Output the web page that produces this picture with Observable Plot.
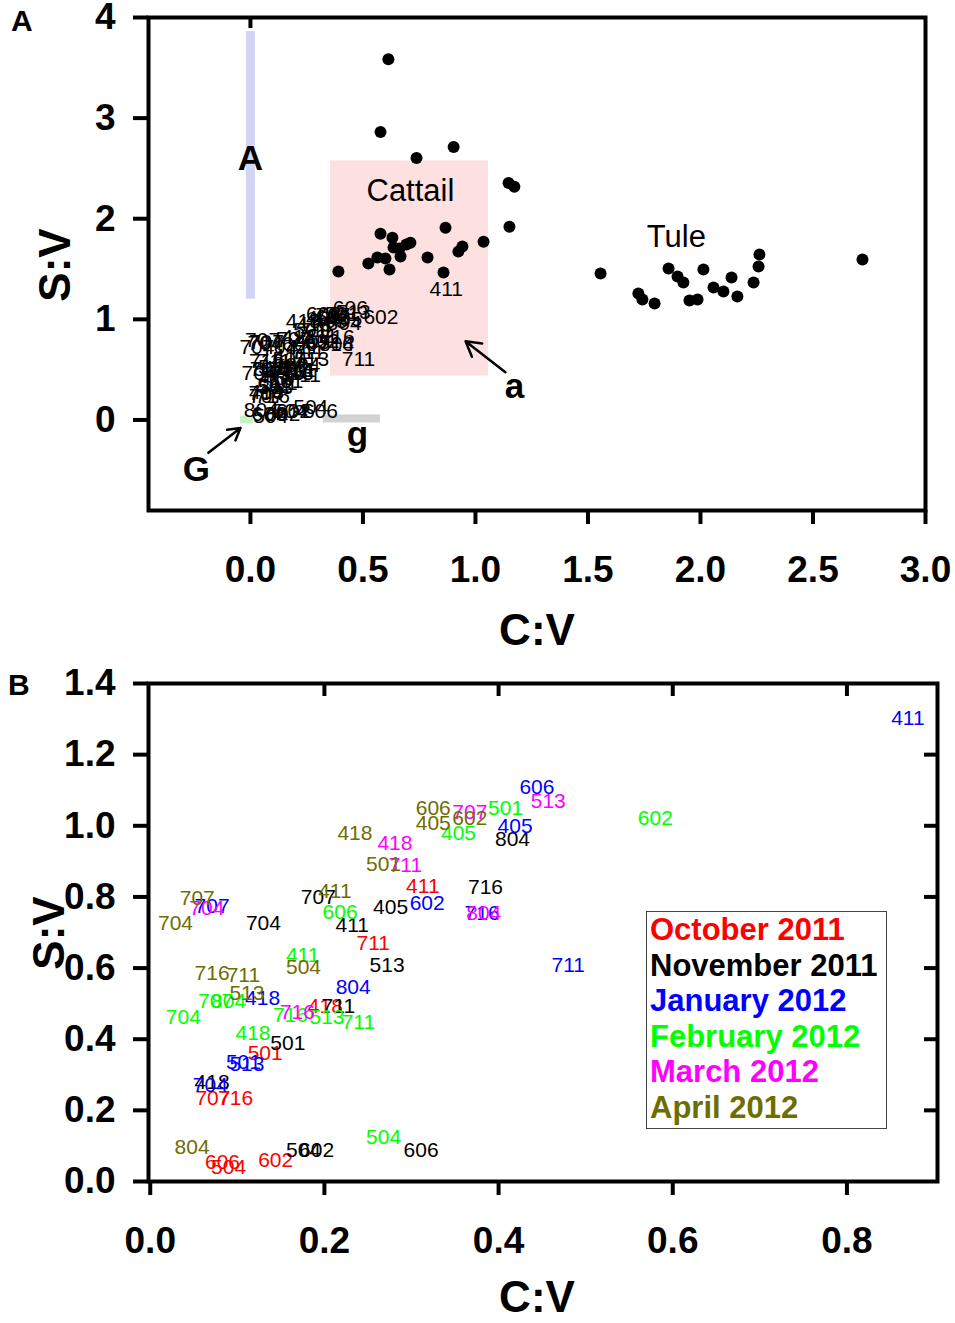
<!DOCTYPE html>
<html><head><meta charset="utf-8">
<script src="https://cdn.jsdelivr.net/npm/d3@7"></script>
<script src="https://cdn.jsdelivr.net/npm/@observablehq/plot@0.6"></script>
<style>
body{margin:0;background:#fff;font-family:Arial,"Liberation Sans",sans-serif}
#wrap{position:relative;width:955px;height:1323px;overflow:hidden}
.panel{position:absolute;left:0}
.plabel{position:absolute;font-weight:bold;font-size:30px;line-height:1}
.title{position:absolute;font-weight:bold;font-size:44px;line-height:1;transform:translate(-50%,-50%);white-space:nowrap}
.title.rot{transform:translate(-50%,-50%) rotate(-90deg)}
#legend{position:absolute;left:646px;top:911px;width:241px;height:218px;border:1px solid #444;box-sizing:border-box;font-weight:bold;font-size:31px;line-height:35.5px;padding-left:3px;white-space:nowrap;background:#fff}
</style></head><body>
<div id="wrap">
  <div id="panelA" class="panel" style="top:0"></div>
  <div id="panelB" class="panel" style="top:660px"></div>
  <div class="plabel" style="left:11px;top:6px">A</div>
  <div class="plabel" style="left:8px;top:670px">B</div>
  <div class="title" style="left:537px;top:630px">C:V</div>
  <div class="title" style="left:537px;top:1297px">C:V</div>
  <div class="title rot" style="left:55px;top:265px">S:V</div>
  <div class="title rot" style="left:49px;top:933px">S:V</div>
  <div id="legend"></div>
</div>
<script>
// ---- months / colours ----
const months = ["October 2011","November 2011","January 2012","February 2012","March 2012","April 2012"];
const monthColors = ["#ff0000","#000000","#0000ff","#00ff00","#ff00ff","#6e6e00"];

// ---- site labels (C:V, S:V) per month ----
const octSite = ["411","711","418","501","707","716","606","504","602"];
const octCV = [0.313,0.256,0.201,0.132,0.072,0.098,0.083,0.090,0.144];
const octSV = [0.831,0.671,0.494,0.360,0.233,0.233,0.053,0.039,0.059];

const novSite = ["716","804","405","707","411","513","704","711","501","418","504","602","606"];
const novCV = [0.385,0.416,0.276,0.193,0.232,0.272,0.130,0.216,0.158,0.071,0.176,0.191,0.311];
const novSV = [0.826,0.963,0.770,0.798,0.719,0.607,0.725,0.494,0.388,0.278,0.087,0.087,0.087];

const janSite = ["411","606","405","602","716","711","707","804","418","501","513","704"];
const janCV = [0.870,0.444,0.419,0.318,0.381,0.480,0.071,0.233,0.129,0.107,0.111,0.069];
const janSV = [1.303,1.107,1.000,0.781,0.753,0.607,0.775,0.545,0.514,0.334,0.329,0.270];

const febSite = ["602","501","405","606","411","707","804","704","418","716","513","711","504"];
const febCV = [0.580,0.408,0.354,0.218,0.175,0.075,0.090,0.038,0.118,0.161,0.203,0.239,0.268];
const febSV = [1.022,1.048,0.978,0.756,0.635,0.508,0.508,0.461,0.416,0.466,0.461,0.447,0.124];

const marSite = ["513","707","418","711","804","704","716"];
const marCV = [0.457,0.367,0.281,0.293,0.383,0.065,0.169];
const marSV = [1.070,1.037,0.952,0.888,0.753,0.767,0.475];

const aprSite = ["606","405","602","418","501","411","707","704","504","716","711","513","804"];
const aprCV = [0.325,0.325,0.367,0.235,0.268,0.212,0.054,0.029,0.176,0.071,0.107,0.111,0.048];
const aprSV = [1.048,1.006,1.020,0.980,0.893,0.817,0.795,0.725,0.601,0.584,0.579,0.528,0.096];

// ---- Cattail and Tule points (panel A) ----
const cattailCV = [0.613,0.578,0.903,0.738,1.147,1.173,1.151,0.867,1.036,0.578,0.631,0.711,0.693,0.662,0.636,0.942,0.924,0.667,0.564,0.600,0.787,0.524,0.618,0.858,0.391];
const cattailSV = [3.584,2.861,2.713,2.604,2.356,2.317,1.921,1.911,1.772,1.851,1.812,1.762,1.743,1.703,1.713,1.723,1.673,1.624,1.614,1.604,1.614,1.554,1.495,1.465,1.475];
const tuleCV = [1.556,1.724,1.742,1.796,1.858,1.898,1.924,1.951,1.987,2.013,2.058,2.102,2.138,2.164,2.236,2.258,2.262,2.720];
const tuleSV = [1.455,1.257,1.198,1.158,1.505,1.426,1.366,1.188,1.198,1.495,1.317,1.277,1.416,1.228,1.366,1.525,1.644,1.594];

// ---- panel A annotation zones ----
const zoneX1 = [-0.018, 0.356, -0.044, 0.324];
const zoneX2 = [0.022, 1.058, 0.013, 0.578];
const zoneY1 = [1.2, 0.436, -0.04, -0.03];
const zoneY2 = [3.86, 2.574, 0.04, 0.05];
const zoneFill = ["#d4d4f7","#fde0e0","#c6f0c6","#d2d2d2"];

const noteText = ["A","Cattail","Tule","a","g","G"];
const noteX = [0.0, 0.711, 1.893, 1.173, 0.476, -0.24];
const noteY = [2.594, 2.277, 1.822, 0.327, -0.15, -0.495];

const arrowX1 = [1.133, -0.187], arrowY1 = [0.475, -0.327];
const arrowX2 = [0.956, -0.044], arrowY2 = [0.782, -0.079];

// ---- build tables ----
const monthSets = [[octSite,octCV,octSV],[novSite,novCV,novSV],[janSite,janCV,janSV],[febSite,febCV,febSV],[marSite,marCV,marSV],[aprSite,aprCV,aprSV]];
const labels = [];
monthSets.forEach(([s,cv,sv], m) => s.forEach((site,i) => labels.push({month: months[m], color: monthColors[m], site, cv: cv[i], sv: sv[i]})));
const cattail = cattailCV.map((x,i)=>({cv:x, sv:cattailSV[i]}));
const tule = tuleCV.map((x,i)=>({cv:x, sv:tuleSV[i]}));
const zones = zoneX1.map((x,i)=>({x1:x, x2:zoneX2[i], y1:zoneY1[i], y2:zoneY2[i], fill:zoneFill[i]}));
const notes = noteText.map((t,i)=>({t, x:noteX[i], y:noteY[i], bold: t.length===1}));
const arrows = arrowX1.map((x,i)=>({x1:x, y1:arrowY1[i], x2:arrowX2[i], y2:arrowY2[i]}));

const FONT = 'Arial, "Liberation Sans", sans-serif';
const axisStyle = {fontSize: 37, fontWeight: "bold", strokeWidth: 4, label: null};

const plotA = Plot.plot({
  width: 955, height: 660,
  marginLeft: 148, marginRight: 30, marginTop: 17, marginBottom: 150,
  x: {domain: [-0.453, 3.0]},
  y: {domain: [-0.9, 4.0]},
  style: {fontFamily: FONT, color: "black", background: "white", overflow: "visible"},
  marks: [
    Plot.rect(zones, {x1:"x1", x2:"x2", y1:"y1", y2:"y2", fill: d=>d.fill}),
    Plot.dot(cattail, {x:"cv", y:"sv", r:6, fill:"black", stroke:"none"}),
    Plot.dot(tule, {x:"cv", y:"sv", r:6, fill:"black", stroke:"none"}),
    Plot.text(labels, {x:"cv", y:"sv", text:"site", fill:"black", fontSize:21}),
    Plot.text(notes.filter(d=>!d.bold), {x:"x", y:"y", text:"t", fontSize:31, fill:"black"}),
    Plot.text(notes.filter(d=>d.bold), {x:"x", y:"y", text:"t", fontSize:35, fontWeight:"bold", fill:"black"}),
    Plot.arrow(arrows, {x1:"x1", y1:"y1", x2:"x2", y2:"y2", stroke:"black", strokeWidth:2.5, headLength:14}),
    Plot.frame({stroke:"black", strokeWidth:4}),
    Plot.axisX({...axisStyle, ticks:[0,0.5,1,1.5,2,2.5,3], tickFormat: d3.format(".1f"), tickSize:14, tickPadding:31}),
    Plot.axisY({...axisStyle, ticks:[0,1,2,3,4], tickFormat: d3.format("d"), tickSize:15, tickPadding:18}),
    Plot.axisX({anchor:"top", ticks:[0], tickFormat: ()=>"", tickSize:10, dy:10, strokeWidth:4, label:null})
  ]
});
document.getElementById("panelA").append(plotA);

const plotB = Plot.plot({
  width: 955, height: 663,
  marginLeft: 148, marginRight: 18, marginTop: 23, marginBottom: 142,
  x: {domain: [-0.002, 0.904]},
  y: {domain: [0, 1.4]},
  style: {fontFamily: FONT, color: "black", background: "white", overflow: "visible"},
  marks: [
    Plot.text(labels, {x:"cv", y:"sv", text:"site", fill:"color", fontSize:21}),
    Plot.frame({stroke:"black", strokeWidth:4}),
    Plot.axisX({...axisStyle, ticks:[0,0.2,0.4,0.6,0.8], tickFormat: d3.format(".1f"), tickSize:14, tickPadding:31}),
    Plot.axisY({...axisStyle, ticks:[0,0.2,0.4,0.6,0.8,1.0,1.2,1.4], tickFormat: d3.format(".1f"), tickSize:15, tickPadding:18}),
    Plot.axisX({anchor:"top", ticks:[0.2,0.4,0.6,0.8], tickFormat: ()=>"", tickSize:12, dy:12, strokeWidth:4, label:null}),
    Plot.axisY({anchor:"right", ticks:[0.2,0.4,0.6,0.8,1.0,1.2], tickFormat: ()=>"", tickSize:14, dx:-14, strokeWidth:4, label:null})
  ]
});
document.getElementById("panelB").append(plotB);

const leg = document.getElementById("legend");
months.forEach((m,i)=>{
  const d = document.createElement("div");
  d.textContent = m;
  d.style.color = monthColors[i];
  leg.append(d);
});
</script>
</body></html>
